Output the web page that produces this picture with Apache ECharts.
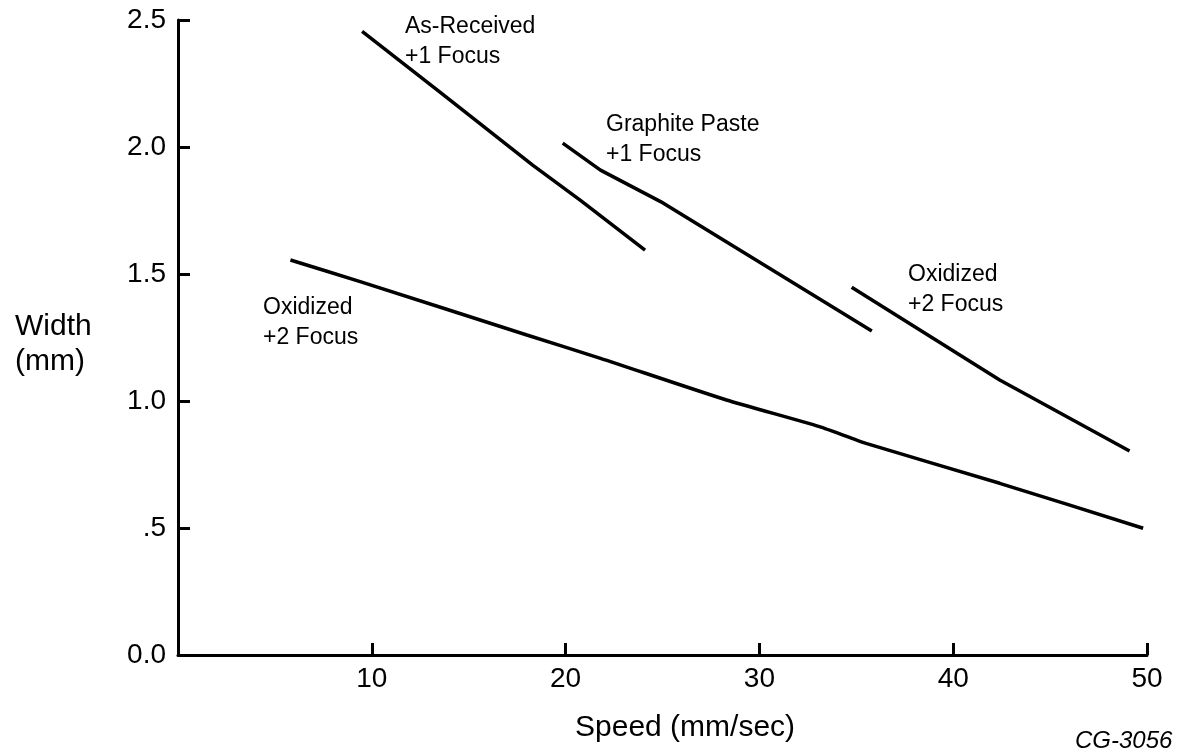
<!DOCTYPE html>
<html>
<head>
<meta charset="utf-8">
<script src="https://cdn.jsdelivr.net/npm/echarts@6/dist/echarts.min.js"></script>
<style>
html,body{margin:0;padding:0;background:#fff;}
#chart{width:1180px;height:753px;}
</style>
</head>
<body>
<div id="chart"></div>
<script>
// Data (speed mm/sec, width mm)
const asReceived1 = [[9.5, 2.455], [13.5, 2.217], [18.3, 1.929], [20.75, 1.791], [24.1, 1.594]];
const graphite1 = [[19.85, 2.015], [21.8, 1.909], [24.9, 1.785], [35.8, 1.276]];
const oxidized2Upper = [[34.76, 1.448], [42.4, 1.083], [49.1, 0.803]];
const oxidized2Lower = [[5.8, 1.555], [9.4, 1.47], [18.0, 1.26], [21.8, 1.168], [28.3, 1.004], [33.1, 0.899], [35.5, 0.833], [42.4, 0.676], [49.8, 0.499]];
const xTicks = [10, 20, 30, 40, 50];
const yTickLabels = {0: '0.0', 0.5: '.5', 1: '1.0', 1.5: '1.5', 2: '2.0', 2.5: '2.5'};

const chart = echarts.init(document.getElementById('chart'), null, {renderer: 'canvas'});
const FONT = '"Liberation Sans", Arial, sans-serif';
const lineStyle = {color: '#000', width: 3.5};
function mk(name, data, smooth) {
  return {name, type: 'line', data, showSymbol: false, symbol: 'none', smooth: smooth || false, lineStyle, animation: false, silent: true};
}
const txt = (x, y, text, size, extra) => Object.assign({
  type: 'text', left: x, top: y,
  style: Object.assign({text, font: size + 'px ' + FONT, fill: '#000'}, extra || {})
});
chart.setOption({
  backgroundColor: '#fff',
  animation: false,
  grid: {left: 178, right: 33, top: 20, bottom: 98},
  xAxis: {
    type: 'value', min: 0, max: 50, interval: 10,
    axisLine: {lineStyle: {color: '#000', width: 3}},
    axisTick: {inside: true, length: 12, lineStyle: {color: '#000', width: 3}},
    splitLine: {show: false},
    axisLabel: {color: '#000', fontSize: 28, fontFamily: FONT, margin: 10,
      formatter: v => xTicks.includes(v) ? String(v) : ''}
  },
  yAxis: {
    type: 'value', min: 0, max: 2.5, interval: 0.5,
    axisLine: {show: true, lineStyle: {color: '#000', width: 3}},
    axisTick: {show: true, inside: true, length: 12, lineStyle: {color: '#000', width: 3}},
    splitLine: {show: false},
    axisLabel: {color: '#000', fontSize: 28, fontFamily: FONT, margin: 12,
      formatter: v => yTickLabels[v] !== undefined ? yTickLabels[v] : ''}
  },
  series: [
    mk('As-Received +1 Focus', asReceived1),
    mk('Graphite Paste +1 Focus', graphite1),
    mk('Oxidized +2 Focus (upper)', oxidized2Upper),
    mk('Oxidized +2 Focus (lower)', oxidized2Lower, 0.2)
  ],
  graphic: [
    txt(15, 312, 'Width', 30),
    txt(15, 347, '(mm)', 30),
    txt(575, 713, 'Speed (mm/sec)', 30),
    txt(1075, 729, 'CG-3056', 24, {font: 'italic 24px ' + FONT}),
    txt(405, 15, 'As-Received', 23),
    txt(405, 45, '+1 Focus', 23),
    txt(606, 113, 'Graphite Paste', 23),
    txt(606, 143, '+1 Focus', 23),
    txt(908, 263, 'Oxidized', 23),
    txt(908, 293, '+2 Focus', 23),
    txt(263, 296, 'Oxidized', 23),
    txt(263, 326, '+2 Focus', 23)
  ]
});
</script>
</body>
</html>
